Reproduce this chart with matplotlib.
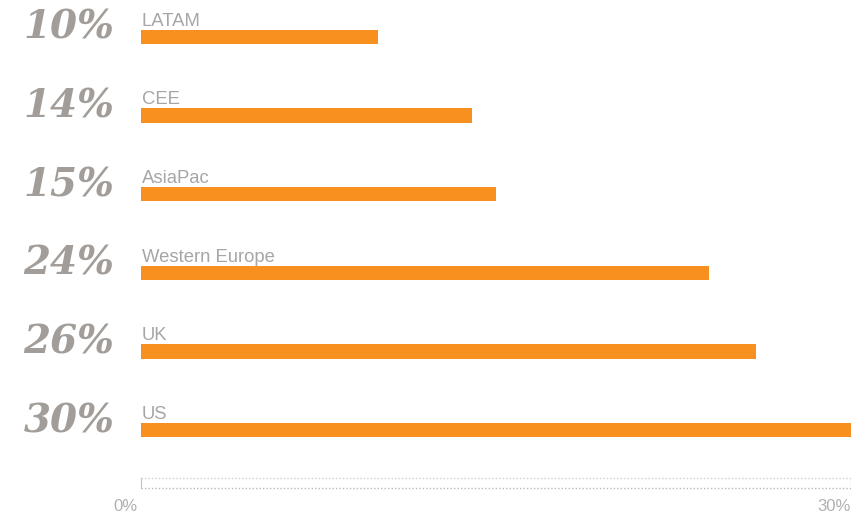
import matplotlib
matplotlib.use("Agg")
import matplotlib.pyplot as plt

regions = ["LATAM", "CEE", "AsiaPac", "Western Europe", "UK", "US"]
values = [10, 14, 15, 24, 26, 30]
pct_labels = ["10%", "14%", "15%", "24%", "26%", "30%"]
xtick_vals = [0, 30]
xtick_labels = ["0%", "30%"]

W, H = 851, 516
fig = plt.figure(figsize=(W / 100, H / 100), dpi=100)
ax = fig.add_axes([141 / W, (H - 478) / H, 710 / W, 478 / H])

n = len(regions)
ypos = [n - 1 - i for i in range(n)]
bar_color = "#F7901E"
ax.barh(ypos, values, height=0.18, color=bar_color, edgecolor="none")
ax.set_xlim(0, 30)
y0 = -0.61
ax.set_ylim(y0, 5.47)

for y, name, lab in zip(ypos, regions, pct_labels):
    ax.annotate(name, xy=(0, y), xytext=(0.5, 8), textcoords="offset points",
                ha="left", va="baseline", fontsize=13.3, color="#a6a6a6",
                family="Liberation Sans")
    ax.annotate(lab, xy=(0, y), xytext=(-19, 6.5), textcoords="offset points",
                ha="right", va="center", fontsize=28, color="#a29d98",
                family="DejaVu Serif", fontweight="bold", fontstyle="italic",
                annotation_clip=False)

for s in ax.spines.values():
    s.set_visible(False)
ax.set_yticks([])
ax.set_xticks([])

# dotted axis box
dy = 10 / 78.6
ax.plot([0, 30], [y0, y0], color="#d0d0d0", lw=1.0, ls=(0, (1, 1.5)), clip_on=False)
ax.plot([0, 30], [y0 - dy, y0 - dy], color="#b8b8b8", lw=1.0, ls=(0, (1, 1.5)), clip_on=False)
for xv in xtick_vals:
    ax.plot([xv, xv], [y0 - dy, y0], color="#c4c4c4", lw=0.8, clip_on=False)

ax.annotate(xtick_labels[0], xy=(0, y0), xytext=(-11, -20.5), textcoords="offset points",
            ha="center", va="center", fontsize=12, color="#b0b0b0", family="Liberation Sans",
            annotation_clip=False)
ax.annotate(xtick_labels[1], xy=(30, y0), xytext=(-0.5, -20.5), textcoords="offset points",
            ha="right", va="center", fontsize=12, color="#b0b0b0", family="Liberation Sans",
            annotation_clip=False)

fig.savefig("out.png", dpi=100)
